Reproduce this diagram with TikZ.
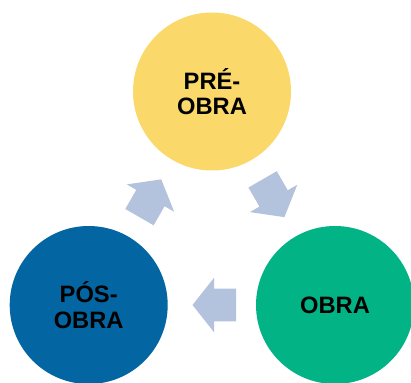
\documentclass[tikz,border=0pt]{standalone}
\usepackage{fontspec}
\setmainfont{Liberation Sans}
\usetikzlibrary{calc}

\definecolor{preyellow}{HTML}{FAD96A}
\definecolor{obragreen}{HTML}{02B386}
\definecolor{posblue}{HTML}{0365A1}
\definecolor{arrowgrey}{HTML}{B3C3DE}

\tikzset{
  phase/.style={circle, inner sep=0pt, minimum size=158pt, align=center,
    font=\fontsize{23.7}{25.7}\selectfont\bfseries, text=black},
  cyclearrow/.pic={
    \fill[arrowgrey] (-21.8,-16.35) -- (0.2,-16.35) -- (0.2,-27.35) -- (21.8,0)
      -- (0.2,27.35) -- (0.2,16.35) -- (-21.8,16.35) -- cycle;
  }
}

\begin{document}
\begin{tikzpicture}[x=1pt, y=-1pt]
  \useasboundingbox (0,0) rectangle (411,382);

  % the three phases of the cycle
  \node[phase, fill=preyellow] (pre)  at (212,91.5) {PRÉ-\\OBRA};
  \node[phase, fill=obragreen] (obra) at (335,305)  {OBRA};
  \node[phase, fill=posblue]   (pos)  at (88.7,305) {PÓS-\\OBRA};

  % block arrows between the phases
  \pic[rotate=-60] at ($(pre)!0.5!(obra)$) {cyclearrow};
  \pic[rotate=180] at ($(obra)!0.49!(pos)$) {cyclearrow};
  \pic[rotate=60]  at ($(pos)!0.5!(pre)$) {cyclearrow};
\end{tikzpicture}
\end{document}
